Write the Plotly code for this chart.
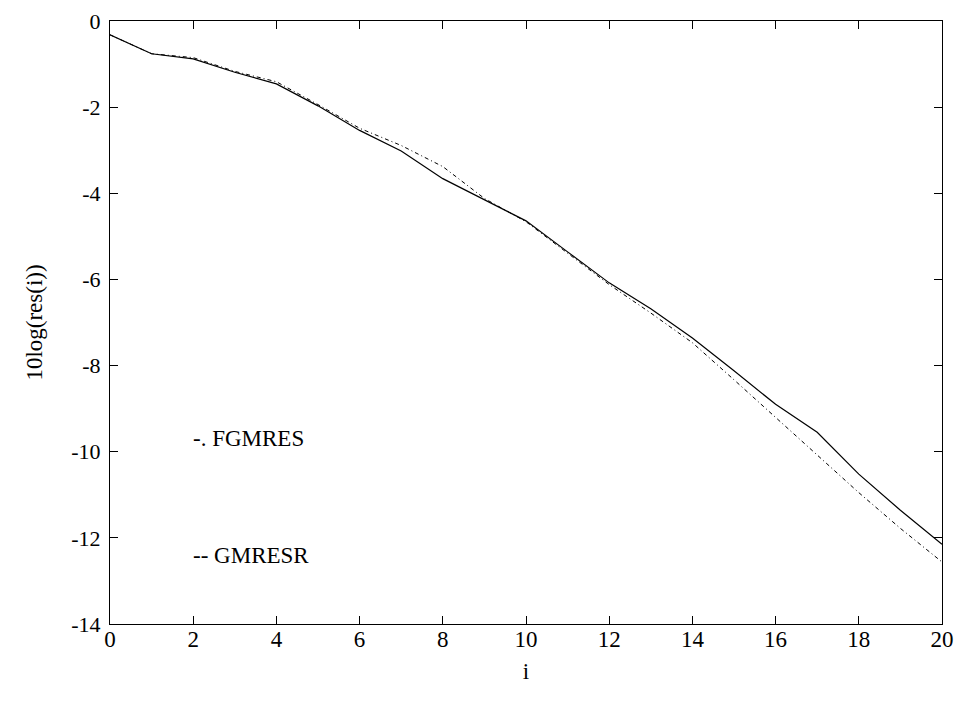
import plotly.graph_objects as go

iters = list(range(21))
gmresr = [-0.32, -0.76, -0.88, -1.19, -1.46, -1.97, -2.54, -3.02, -3.66, -4.15, -4.64,
          -5.36, -6.08, -6.68, -7.36, -8.12, -8.90, -9.55, -10.52, -11.36, -12.15]
fgmres = [-0.32, -0.76, -0.85, -1.17, -1.41, -1.94, -2.49, -2.89, -3.38, -4.12, -4.66,
          -5.40, -6.12, -6.78, -7.47, -8.33, -9.20, -10.06, -10.95, -11.78, -12.56]
x_ticks = list(range(0, 21, 2))
y_ticks = list(range(-14, 1, 2))
y_ticktext = [str(v) for v in y_ticks]
legend_labels = ["-. FGMRES", "-- GMRESR"]
legend_x = [1.95, 1.95]
legend_y = [-9.7, -12.4]

font = "Liberation Serif"
fs = 23

fig = go.Figure()
fig.add_trace(go.Scatter(x=iters, y=gmresr, mode="lines",
                         line=dict(color="black", width=1.2), showlegend=False))
fig.add_trace(go.Scatter(x=iters, y=fgmres, mode="lines",
                         line=dict(color="black", width=1, dash="4px,3px,1px,3px"),
                         showlegend=False))
for t, xx, yy in zip(legend_labels, legend_x, legend_y):
    fig.add_annotation(x=xx, y=yy, text=t, showarrow=False, xanchor="left",
                       font=dict(family=font, size=fs, color="black"))

axis_common = dict(showgrid=False, zeroline=False, showline=True, linecolor="black",
                   linewidth=1, mirror="ticks", ticks="inside", ticklen=8,
                   tickcolor="black", ticklabeloverflow="allow", automargin=False)
fig.update_xaxes(range=[0, 20], tickvals=x_ticks, ticklabelstandoff=-6,
                 tickfont=dict(family=font, size=fs, color="black"),
                 title=dict(text="i", font=dict(family=font, size=fs, color="black"), standoff=12),
                 **axis_common)
fig.update_yaxes(range=[-14, 0], tickvals=y_ticks, ticktext=y_ticktext, ticklabelstandoff=4,
                 tickfont=dict(family=font, size=22, color="black"),
                 title=dict(text="10log(res(i))", font=dict(family=font, size=fs, color="black"), standoff=22),
                 **axis_common)
fig.update_layout(width=946, height=697, margin=dict(l=102, r=12, t=13, b=81),
                  plot_bgcolor="white", paper_bgcolor="white")
fig.write_html("out.html")
